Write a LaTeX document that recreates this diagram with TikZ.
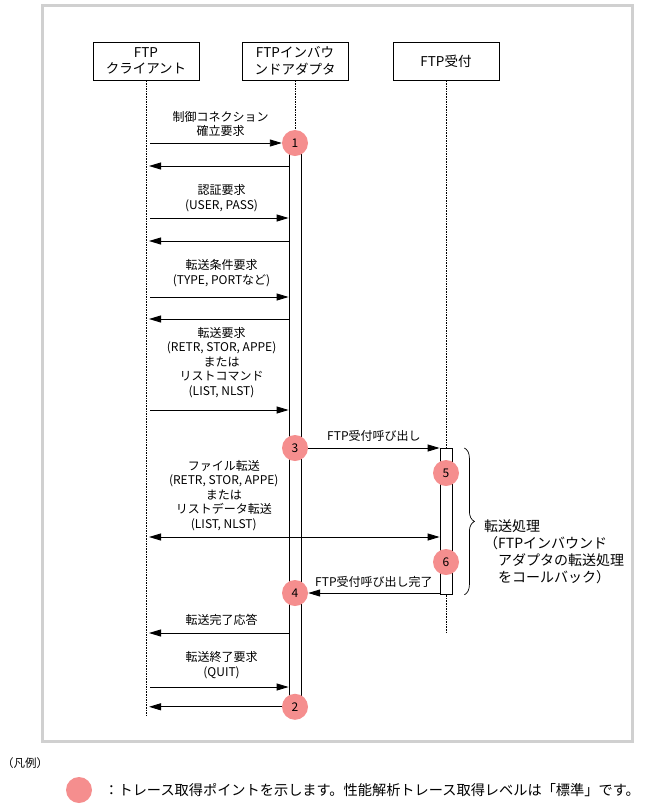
\documentclass[tikz,border=0pt]{standalone}
\usepackage{fontspec}
\setmainfont{Noto Sans CJK JP}
\usetikzlibrary{arrows.meta,positioning,decorations.pathreplacing}
\definecolor{ptpink}{RGB}{245,142,142}
\definecolor{framegray}{RGB}{208,208,208}
\tikzset{
  lane/.style={draw, line width=0.8pt, minimum width=106pt, minimum height=38pt,
    align=center, inner sep=1pt, font=\fontsize{13.5}{16.5}\selectfont},
  life/.style={line width=0.7pt, dash pattern=on 1.6pt off 1pt},
  act/.style={draw, fill=white, line width=0.8pt, minimum width=12pt, inner sep=0pt},
  tp/.style={circle, fill=ptpink, minimum size=26pt, inner sep=0pt},
  msg/.style={line width=0.9pt, -{Triangle[length=12pt,width=7pt]}},
  msgboth/.style={line width=0.9pt, {Triangle[length=12pt,width=7pt]}-{Triangle[length=12pt,width=7pt]}},
  lbl/.style={align=center, inner sep=0pt},
  note/.style={align=left, inner sep=0pt, font=\fontsize{14}{16.7}\selectfont},
  brace/.style={decorate, decoration={brace, amplitude=10pt}, line width=0.7pt}
}
\begin{document}
\begin{tikzpicture}[x=1pt, y=-1pt, font=\fontsize{12}{14.5}\selectfont]
  \useasboundingbox (0,0) rectangle (647,807);
  \draw[framegray, line width=3pt] (42,5.5) rectangle (632,741.5);

  \node[lane] (cl) at (146,61) {FTP\\クライアント};
  \node[lane] (ad) at (295,61) {FTPインバウ\\ンドアダプタ};
  \node[lane] (rc) at (446,61) {FTP受付};

  \coordinate (clend) at (146,717);
  \coordinate (rcend) at (446,633);
  \draw[life] (cl.south) -- (clend);
  \draw[life] (rc.south) -- (rcend);

  \node[act, minimum height=563pt, anchor=north] (adbar) at (295,143) {};
  \node[act, minimum height=146pt, anchor=north] (rcbar) at (446,448) {};
  \draw[life] (ad.south) -- (adbar.north);

  \node[tp] (p1) at (adbar.north) {1};
  \node[tp] (p3) at (295,448) {3};
  \node[tp] (p4) at (295,593) {4};
  \node[tp] (p2) at (adbar.south) {2};
  \node[tp] (p5) at (446,473) {5};
  \node[tp] (p6) at (446,562) {6};

  \coordinate (r2) at (0,166);
  \coordinate (r3) at (0,218);
  \coordinate (r4) at (0,241);
  \coordinate (r5) at (0,297);
  \coordinate (r6) at (0,319);
  \coordinate (r7) at (0,410);
  \coordinate (r9) at (0,537);
  \coordinate (r11) at (0,633);
  \coordinate (r12) at (0,687);

  \draw[msg, shorten <=4pt] (cl |- p1) -- node[lbl, pos=.55, above=6pt]{制御コネクション\\確立要求} (p1.west);
  \draw[msg, shorten >=3pt] (adbar.west |- r2) -- (cl |- r2);
  \draw[msg, shorten <=4pt] (cl |- r3) -- node[lbl, pos=.53, above=6pt]{認証要求\\(USER, PASS)} (adbar.west |- r3);
  \draw[msg, shorten >=3pt] (adbar.west |- r4) -- (cl |- r4);
  \draw[msg, shorten <=4pt] (cl |- r5) -- node[lbl, pos=.53, above=10pt]{転送条件要求\\(TYPE, PORTなど)} (adbar.west |- r5);
  \draw[msg, shorten >=3pt] (adbar.west |- r6) -- (cl |- r6);
  \draw[msg, shorten <=4pt] (cl |- r7) -- node[lbl, pos=.53, above=12pt]{転送要求\\(RETR, STOR, APPE)\\または\\リストコマンド\\(LIST, NLST)} (adbar.west |- r7);
  \draw[msg] (p3.east) -- node[lbl, above=6pt]{FTP受付呼び出し} (rcbar.west |- p3);
  \draw[msgboth, shorten >=3pt] (rcbar.west |- r9) -- node[lbl, pos=.735, above=6pt]{ファイル転送\\(RETR, STOR, APPE)\\または\\リストデータ転送\\(LIST, NLST)} (cl |- r9);
  \draw[msg] (rcbar.west |- p4) -- node[lbl, above=5pt]{FTP受付呼び出し完了} (p4.east);
  \draw[msg, shorten >=3pt] (adbar.west |- r11) -- node[lbl, pos=.47, above=7pt]{転送完了応答} (cl |- r11);
  \draw[msg, shorten <=4pt] (cl |- r12) -- node[lbl, pos=.53, above=8pt]{転送終了要求\\(QUIT)} (adbar.west |- r12);
  \draw[msg, shorten >=3pt] (p2.west) -- (cl |- p2);

  \draw[brace] ([xshift=12pt]rcbar.north east) -- ([xshift=12pt]rcbar.south east);
  \node[note, anchor=north west] (proc) at (484,520) {転送処理\\（FTPインバウンド\\\hspace{1em}アダプタの転送処理\\\hspace{1em}をコールバック）};

  \node[anchor=west, inner sep=0pt, font=\fontsize{11.5}{14}\selectfont] (legtitle) at (2,763) {（凡例）};
  \node[tp] (legdot) at (79,790) {};
  \node[anchor=west, inner sep=0pt, font=\fontsize{14.2}{16}\selectfont, right=12pt of legdot] (legtext) {：トレース取得ポイントを示します。性能解析トレース取得レベルは「標準」です。};
\end{tikzpicture}
\end{document}
